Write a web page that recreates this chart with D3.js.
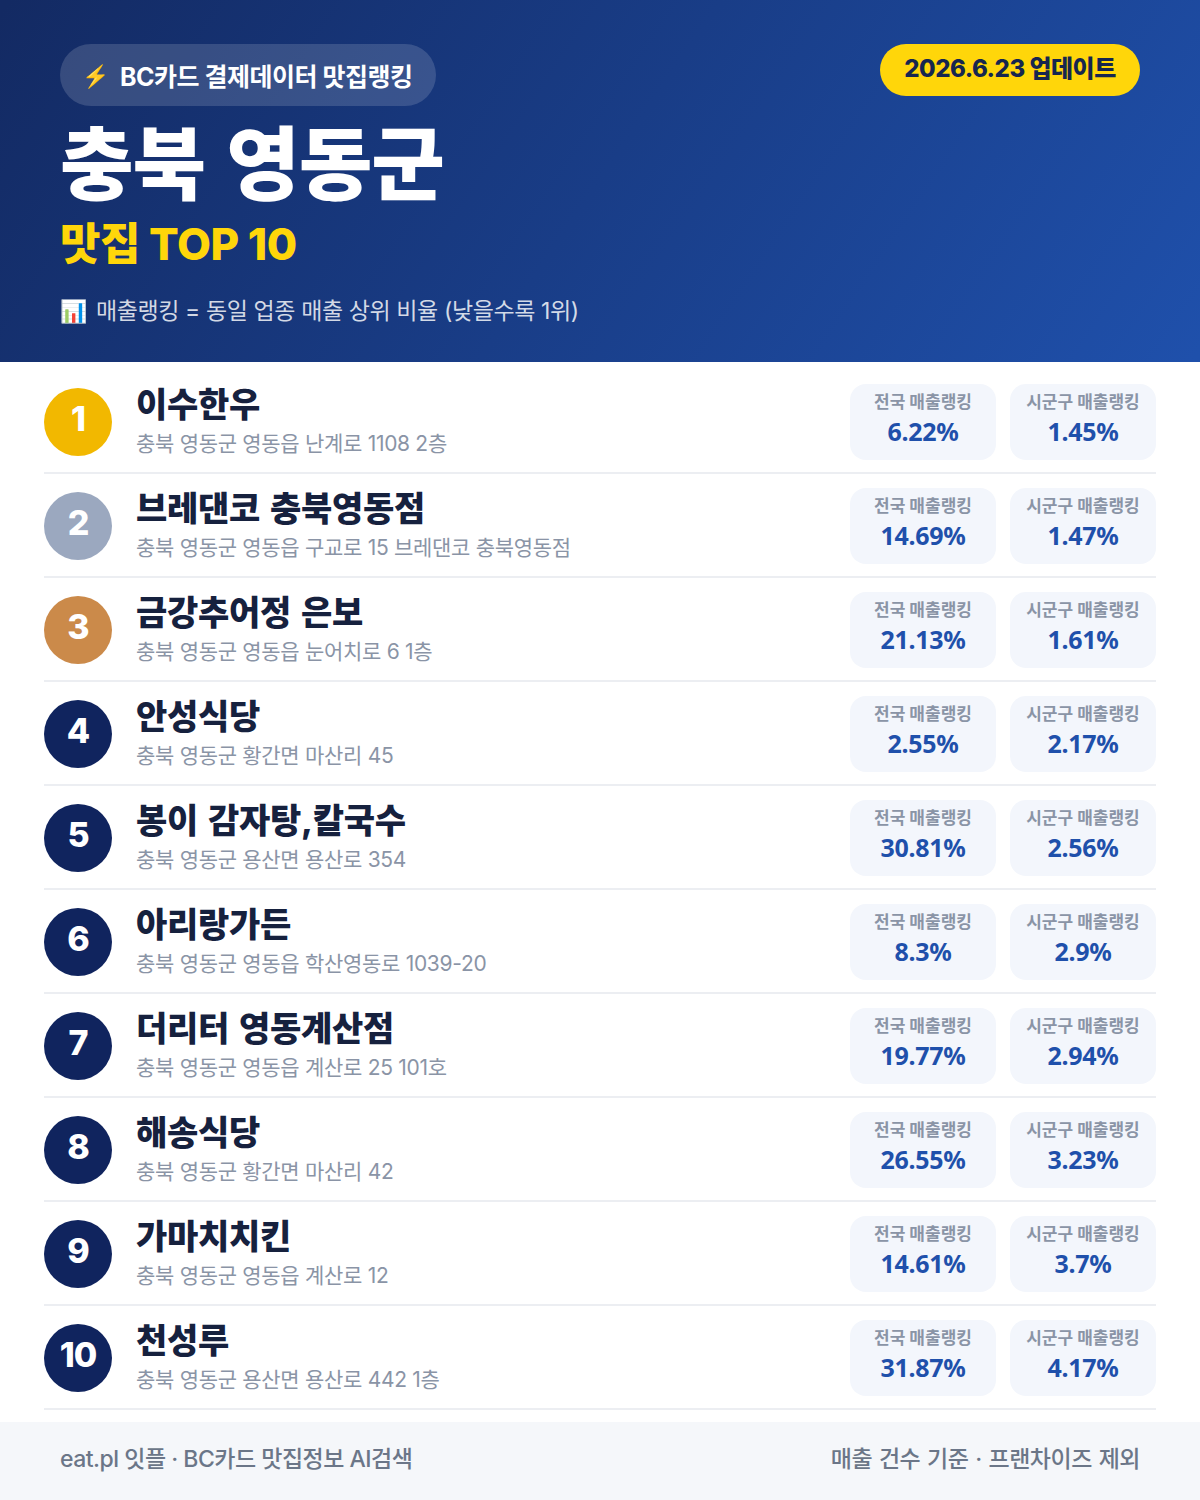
<!DOCTYPE html>
<html lang="ko">
<head>
<meta charset="utf-8" />
<style>
	html, body { margin: 0; padding: 0; background: #fff; }
	svg { display: block; }
	text { font-family: Inter, "Noto Sans CJK KR", sans-serif; }
</style>
</head>
<body>
<div id="chart"></div>
<script src="https://d3js.org/d3.v7.min.js"></script>
<script>
const ranks = ['1', '2', '3', '4', '5', '6', '7', '8', '9', '10'];
const names = ['이수한우', '브레댄코 충북영동점', '금강추어정 은보', '안성식당', '봉이 감자탕,칼국수', '아리랑가든', '더리터 영동계산점', '해송식당', '가마치치킨', '천성루'];
const addresses = [
	'충북 영동군 영동읍 난계로 1108 2층',
	'충북 영동군 영동읍 구교로 15 브레댄코 충북영동점',
	'충북 영동군 영동읍 눈어치로 6 1층',
	'충북 영동군 황간면 마산리 45',
	'충북 영동군 용산면 용산로 354',
	'충북 영동군 영동읍 학산영동로 1039-20',
	'충북 영동군 영동읍 계산로 25 101호',
	'충북 영동군 황간면 마산리 42',
	'충북 영동군 영동읍 계산로 12',
	'충북 영동군 용산면 용산로 442 1층'
];
const national = [6.22, 14.69, 21.13, 2.55, 30.81, 8.3, 19.77, 26.55, 14.61, 31.87];
const district = [1.45, 1.47, 1.61, 2.17, 2.56, 2.9, 2.94, 3.23, 3.7, 4.17];
const medalColors = ['#f2b800', '#9ba8bf', '#cb8a4a'];

const width = 1200, height = 1500;
const svg = d3.select('#chart').append('svg').attr('width', width).attr('height', height);

const grad = svg.append('defs').append('linearGradient').attr('id', 'head')
	.attr('gradientUnits', 'userSpaceOnUse')
	.attr('x1', 110).attr('y1', -150).attr('x2', 1090).attr('y2', 512);
grad.append('stop').attr('offset', 0).attr('stop-color', '#132a63');
grad.append('stop').attr('offset', 1).attr('stop-color', '#1f50ab');

// header
svg.append('rect').attr('width', width).attr('height', 362).attr('fill', 'url(#head)');
svg.append('rect').attr('x', 60).attr('y', 44).attr('width', 376).attr('height', 62).attr('rx', 31)
	.attr('fill', '#fff').attr('fill-opacity', 0.15);
svg.append('text').attr('x', 82).attr('y', 84).attr('font-size', 22).attr('fill', '#fff').text('⚡');
svg.append('text').attr('x', 120).attr('y', 86).attr('font-size', 25).attr('font-weight', 700)
	.attr('letter-spacing', -0.5).attr('fill', '#fff').text('BC카드 결제데이터 맛집랭킹');
svg.append('text').attr('x', 60).attr('y', 193).attr('font-size', 80).attr('font-weight', 900)
	.attr('letter-spacing', -1).attr('word-spacing', 6).attr('fill', '#fff').text('충북 영동군');
svg.append('text').attr('x', 60).attr('y', 260).attr('font-size', 44).attr('font-weight', 800)
	.attr('letter-spacing', -0.5).attr('fill', '#ffd60a').text('맛집 TOP 10');
svg.append('text').attr('x', 60).attr('y', 319).attr('font-size', 22).attr('fill', '#fff').text('📊');
svg.append('text').attr('x', 96).attr('y', 319).attr('font-size', 23).attr('font-weight', 400)
	.attr('letter-spacing', -0.4).attr('fill', '#fff').attr('fill-opacity', 0.82)
	.text('매출랭킹 = 동일 업종 매출 상위 비율 (낮을수록 1위)');

svg.append('rect').attr('x', 880).attr('y', 44).attr('width', 260).attr('height', 52).attr('rx', 26).attr('fill', '#ffd60a');
svg.append('text').attr('x', 1010).attr('y', 77).attr('text-anchor', 'middle').attr('font-size', 24)
	.attr('font-weight', 800).attr('letter-spacing', -0.5).attr('fill', '#16264f').text('2026.6.23 업데이트');

// rows
const y = d3.scaleBand().domain(ranks).range([370, 1410]);
const row = svg.selectAll('g.row').data(ranks).join('g').attr('class', 'row')
	.attr('transform', d => `translate(0,${y(d)})`);

row.append('rect').attr('x', 44).attr('y', 102).attr('width', 1112).attr('height', 2).attr('fill', '#eceef2');
row.append('circle').attr('cx', 78).attr('cy', 52).attr('r', 34)
	.attr('fill', (d, i) => medalColors[i] || '#10245e');
row.append('text').attr('x', 78).attr('y', 61).attr('text-anchor', 'middle').attr('font-size', 34)
	.attr('font-weight', 800).attr('letter-spacing', -1).attr('fill', '#fff').text(d => d);
row.append('text').attr('x', 136).attr('y', 47).attr('font-size', 34).attr('font-weight', 800)
	.attr('letter-spacing', -0.3).attr('word-spacing', 3).attr('fill', '#16213e').text((d, i) => names[i]);
row.append('text').attr('x', 136).attr('y', 81).attr('font-size', 21).attr('font-weight', 400)
	.attr('letter-spacing', -0.3).attr('fill', '#8a94a6').text((d, i) => addresses[i]);

const cards = [
	{ x: 850, label: '전국 매출랭킹', values: national },
	{ x: 1010, label: '시군구 매출랭킹', values: district }
];
cards.forEach(c => {
	row.append('rect').attr('x', c.x).attr('y', 14).attr('width', 146).attr('height', 76).attr('rx', 16).attr('fill', '#f3f6fc');
	row.append('text').attr('x', c.x + 73).attr('y', 38).attr('text-anchor', 'middle').attr('font-size', 17)
		.attr('font-weight', 700).attr('fill', '#8a94a6').text(c.label);
	row.append('text').attr('x', c.x + 73).attr('y', 71).attr('text-anchor', 'middle').attr('font-size', 25)
		.attr('font-weight', 700).attr('letter-spacing', -0.3).attr('fill', '#1f50ab')
		.style('font-family', '"Noto Sans", sans-serif').text((d, i) => c.values[i] + '%');
});

// footer
svg.append('rect').attr('y', 1422).attr('width', width).attr('height', 78).attr('fill', '#f5f7fa');
svg.append('text').attr('x', 60).attr('y', 1467).attr('font-size', 23).attr('font-weight', 500)
	.attr('letter-spacing', -0.5).attr('fill', '#6b7688').text('eat.pl 잇플 · BC카드 맛집정보 AI검색');
svg.append('text').attr('x', 1140).attr('y', 1467).attr('text-anchor', 'end').attr('font-size', 23).attr('font-weight', 500)
	.attr('letter-spacing', -0.5).attr('word-spacing', 1.2).attr('fill', '#6b7688').text('매출 건수 기준 · 프랜차이즈 제외');
</script>
</body>
</html>
